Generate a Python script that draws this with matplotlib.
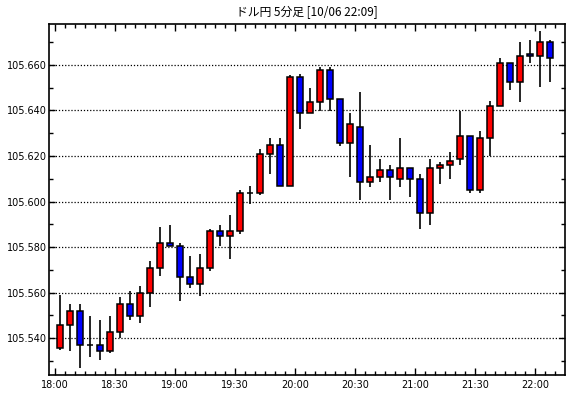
import numpy as np
import matplotlib
matplotlib.use('Agg')
import matplotlib.pyplot as plt
from matplotlib.ticker import FixedLocator, MultipleLocator, FuncFormatter

plt.rcParams['font.family'] = ['Noto Sans CJK JP', 'DejaVu Sans']

# 5 minute candles, 18:00 .. 22:05
opens  = [105.5356, 105.5459, 105.5520, 105.5370, 105.5370, 105.5346, 105.5426, 105.5550, 105.5498, 105.5598,
          105.5707, 105.5817, 105.5807, 105.5668, 105.5637, 105.5707, 105.5870, 105.5850, 105.5870, 105.6037,
          105.6037, 105.6208, 105.6248, 105.6069, 105.6546, 105.6388, 105.6437, 105.6579, 105.6450, 105.6257,
          105.6327, 105.6088, 105.6107, 105.6138, 105.6098, 105.6147, 105.6098, 105.5949, 105.6147, 105.6160,
          105.6186, 105.6287, 105.6050, 105.6278, 105.6419, 105.6608, 105.6527, 105.6649, 105.6640, 105.6700]
highs  = [105.5590, 105.5550, 105.5550, 105.5498, 105.5480, 105.5498, 105.5580, 105.5608, 105.5630, 105.5740,
          105.5890, 105.5898, 105.5817, 105.5762, 105.5769, 105.5879, 105.5898, 105.5942, 105.6052, 105.6069,
          105.6230, 105.6281, 105.6281, 105.6557, 105.6561, 105.6498, 105.6590, 105.6590, 105.6450, 105.6388,
          105.6483, 105.6249, 105.6188, 105.6161, 105.6281, 105.6147, 105.6122, 105.6186, 105.6172, 105.6218,
          105.6399, 105.6287, 105.6311, 105.6440, 105.6630, 105.6608, 105.6702, 105.6710, 105.6750, 105.6710]
lows   = [105.5350, 105.5346, 105.5268, 105.5317, 105.5305, 105.5337, 105.5400, 105.5478, 105.5469, 105.5536,
          105.5674, 105.5803, 105.5565, 105.5620, 105.5587, 105.5697, 105.5806, 105.5747, 105.5857, 105.5989,
          105.6027, 105.6120, 105.6069, 105.6069, 105.6318, 105.6388, 105.6399, 105.6399, 105.6246, 105.6107,
          105.6008, 105.6066, 105.6088, 105.6008, 105.6066, 105.6018, 105.5879, 105.5895, 105.6076, 105.6098,
          105.6160, 105.6037, 105.6037, 105.6200, 105.6419, 105.6488, 105.6435, 105.6608, 105.6505, 105.6527]
closes = [105.5459, 105.5520, 105.5370, 105.5370, 105.5346, 105.5426, 105.5550, 105.5498, 105.5598, 105.5707,
          105.5817, 105.5807, 105.5668, 105.5637, 105.5707, 105.5870, 105.5850, 105.5870, 105.6037, 105.6037,
          105.6208, 105.6248, 105.6069, 105.6546, 105.6388, 105.6437, 105.6579, 105.6450, 105.6257, 105.6340,
          105.6088, 105.6107, 105.6138, 105.6107, 105.6147, 105.6098, 105.5949, 105.6147, 105.6160, 105.6177,
          105.6287, 105.6050, 105.6278, 105.6419, 105.6608, 105.6527, 105.6640, 105.6640, 105.6700, 105.6630]

time_labels = ['18:00', '18:30', '19:00', '19:30', '20:00', '20:30', '21:00', '21:30', '22:00']
y_labels = [105.540, 105.560, 105.580, 105.600, 105.620, 105.640, 105.660]
title = 'ドル円 5分足 [10/06 22:09]'

o = np.array(opens)
h = np.array(highs)
l = np.array(lows)
c = np.array(closes)
x = np.arange(len(o))

fig = plt.figure(figsize=(5.7, 3.98), dpi=100)
ax = fig.add_axes([0.086, 0.058, 0.905, 0.882])

# wicks then bodies
ax.vlines(x, l, h, color='black', linewidth=1.2, zorder=2)
up = c >= o
colors = np.where(up, '#ff0000', '#0000ff')
bottom = np.minimum(o, c)
height = np.abs(c - o)
ax.bar(x, height, width=0.62, bottom=bottom, color=colors,
       edgecolor='black', linewidth=1.1, zorder=3)

ax.set_xlim(-1.1, 50.5)
ax.set_ylim(105.5239, 105.678)

# horizontal dotted grid at labelled prices
for yv in y_labels:
    ax.axhline(yv, color='black', linestyle=(0, (1, 1.5)), linewidth=0.9, zorder=1)

ax.yaxis.set_major_locator(FixedLocator(y_labels))
ax.yaxis.set_minor_locator(MultipleLocator(0.010))
ax.yaxis.set_major_formatter(FuncFormatter(lambda v, p: '%.3f' % v))

major_x = [-0.5 + 6 * k for k in range(len(time_labels))]
ax.xaxis.set_major_locator(FixedLocator(major_x))
ax.set_xticklabels(time_labels)
ax.xaxis.set_minor_locator(FixedLocator([-0.5 + k for k in range(51)]))

ax.tick_params(axis='both', which='both', direction='in', top=True, right=True,
               labelsize=7, colors='black', width=1)
ax.tick_params(axis='x', which='major', length=5, pad=4)
ax.tick_params(axis='y', which='major', length=4, pad=1.5)
ax.tick_params(axis='both', which='minor', length=3)
for lab in ax.get_xticklabels() + ax.get_yticklabels():
    lab.set_family('DejaVu Sans')

for s in ax.spines.values():
    s.set_linewidth(1.2)

fig.text(0.539, 0.968, title, ha='center', va='center', fontsize=8.5)

fig.savefig('out.png', dpi=100)
